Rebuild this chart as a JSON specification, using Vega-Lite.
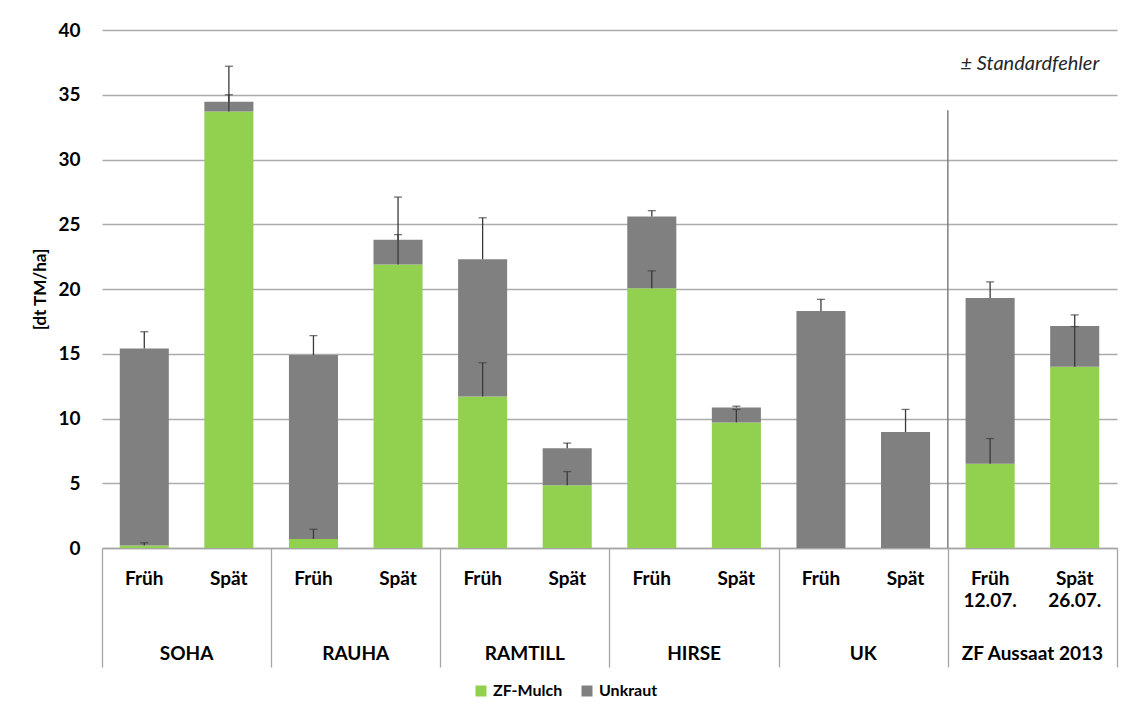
{
  "$schema": "https://vega.github.io/schema/vega-lite/v6.json",
  "width": 1015,
  "height": 518,
  "autosize": {"type": "none"},
  "padding": {"left": 102, "top": 30, "right": 9, "bottom": 163},
  "background": "white",
  "config": {"view": {"stroke": null}, "font": "Lato"},
  "datasets": {
    "bars": [
      {"cat": "SOHA|Früh", "component": "ZF-Mulch", "value": 0.2},
      {"cat": "SOHA|Früh", "component": "Unkraut", "value": 15.2},
      {"cat": "SOHA|Spät", "component": "ZF-Mulch", "value": 33.7},
      {"cat": "SOHA|Spät", "component": "Unkraut", "value": 0.75},
      {"cat": "RAUHA|Früh", "component": "ZF-Mulch", "value": 0.7},
      {"cat": "RAUHA|Früh", "component": "Unkraut", "value": 14.2},
      {"cat": "RAUHA|Spät", "component": "ZF-Mulch", "value": 21.9},
      {"cat": "RAUHA|Spät", "component": "Unkraut", "value": 1.9},
      {"cat": "RAMTILL|Früh", "component": "ZF-Mulch", "value": 11.7},
      {"cat": "RAMTILL|Früh", "component": "Unkraut", "value": 10.6},
      {"cat": "RAMTILL|Spät", "component": "ZF-Mulch", "value": 4.85},
      {"cat": "RAMTILL|Spät", "component": "Unkraut", "value": 2.85},
      {"cat": "HIRSE|Früh", "component": "ZF-Mulch", "value": 20.05},
      {"cat": "HIRSE|Früh", "component": "Unkraut", "value": 5.55},
      {"cat": "HIRSE|Spät", "component": "ZF-Mulch", "value": 9.7},
      {"cat": "HIRSE|Spät", "component": "Unkraut", "value": 1.15},
      {"cat": "UK|Früh", "component": "ZF-Mulch", "value": 0},
      {"cat": "UK|Früh", "component": "Unkraut", "value": 18.3},
      {"cat": "UK|Spät", "component": "ZF-Mulch", "value": 0},
      {"cat": "UK|Spät", "component": "Unkraut", "value": 8.95},
      {"cat": "ZF Aussaat 2013|Früh|12.07.", "component": "ZF-Mulch", "value": 6.5},
      {"cat": "ZF Aussaat 2013|Früh|12.07.", "component": "Unkraut", "value": 12.8},
      {"cat": "ZF Aussaat 2013|Spät|26.07.", "component": "ZF-Mulch", "value": 14.0},
      {"cat": "ZF Aussaat 2013|Spät|26.07.", "component": "Unkraut", "value": 3.15}
    ],
    "err": [
      {"cat": "SOHA|Früh", "series": "ZF-Mulch", "base": 0.2, "top": 0.4},
      {"cat": "SOHA|Früh", "series": "Gesamt", "base": 15.4, "top": 16.7},
      {"cat": "SOHA|Spät", "series": "ZF-Mulch", "base": 33.7, "top": 35.0},
      {"cat": "SOHA|Spät", "series": "Gesamt", "base": 34.45, "top": 37.2},
      {"cat": "RAUHA|Früh", "series": "ZF-Mulch", "base": 0.7, "top": 1.45},
      {"cat": "RAUHA|Früh", "series": "Gesamt", "base": 14.9, "top": 16.4},
      {"cat": "RAUHA|Spät", "series": "ZF-Mulch", "base": 21.9, "top": 24.2},
      {"cat": "RAUHA|Spät", "series": "Gesamt", "base": 23.8, "top": 27.1},
      {"cat": "RAMTILL|Früh", "series": "ZF-Mulch", "base": 11.7, "top": 14.3},
      {"cat": "RAMTILL|Früh", "series": "Gesamt", "base": 22.3, "top": 25.5},
      {"cat": "RAMTILL|Spät", "series": "ZF-Mulch", "base": 4.85, "top": 5.9},
      {"cat": "RAMTILL|Spät", "series": "Gesamt", "base": 7.7, "top": 8.1},
      {"cat": "HIRSE|Früh", "series": "ZF-Mulch", "base": 20.05, "top": 21.4},
      {"cat": "HIRSE|Früh", "series": "Gesamt", "base": 25.6, "top": 26.05},
      {"cat": "HIRSE|Spät", "series": "ZF-Mulch", "base": 9.7, "top": 10.7},
      {"cat": "HIRSE|Spät", "series": "Gesamt", "base": 10.85, "top": 10.95},
      {"cat": "UK|Früh", "series": "Gesamt", "base": 18.3, "top": 19.2},
      {"cat": "UK|Spät", "series": "Gesamt", "base": 8.95, "top": 10.7},
      {"cat": "ZF Aussaat 2013|Früh|12.07.", "series": "ZF-Mulch", "base": 6.5, "top": 8.45},
      {"cat": "ZF Aussaat 2013|Früh|12.07.", "series": "Gesamt", "base": 19.3, "top": 20.55},
      {"cat": "ZF Aussaat 2013|Spät|26.07.", "series": "ZF-Mulch", "base": 14.0, "top": 17.1},
      {"cat": "ZF Aussaat 2013|Spät|26.07.", "series": "Gesamt", "base": 17.15, "top": 18.0}
    ]
  },
  "layer": [
    {
      "data": {"name": "bars"},
      "mark": {"type": "bar"},
      "encoding": {
        "x": {
          "field": "cat", "type": "nominal",
          "scale": {
            "domain": ["SOHA|Früh", "SOHA|Spät", "RAUHA|Früh", "RAUHA|Spät", "RAMTILL|Früh", "RAMTILL|Spät", "HIRSE|Früh", "HIRSE|Spät", "UK|Früh", "UK|Spät", "ZF Aussaat 2013|Früh|12.07.", "ZF Aussaat 2013|Spät|26.07."],
            "paddingInner": 0.42, "paddingOuter": 0.21
          },
          "axis": {
            "orient": "bottom",
            "title": null, "domain": false, "ticks": false, "grid": false,
            "labelAngle": 0,
            "labelExpr": "slice(split(datum.value, '|'), 1)",
            "labelFont": "Lato", "labelFontWeight": "bold", "labelFontSize": 19,
            "labelColor": "#000000", "labelBaseline": "top", "labelPadding": 21,
            "labelLineHeight": 22
          }
        },
        "y": {
          "field": "value", "type": "quantitative", "stack": "zero",
          "scale": {"domain": [0, 40], "nice": false},
          "axis": {
            "title": "[dt TM/ha]", "values": [0, 5, 10, 15, 20, 25, 30, 35, 40],
            "domain": false, "ticks": false, "grid": true, "gridColor": "#ababab", "gridWidth": 1.3,
            "labelFont": "Lato", "labelFontWeight": "bold", "labelFontSize": 19, "labelColor": "#000000",
            "labelPadding": 22,
            "titleFont": "Lato", "titleFontWeight": "bold", "titleFontSize": 17, "titleColor": "#000000",
            "titlePadding": 8
          }
        },
        "color": {
          "field": "component", "type": "nominal",
          "scale": {"domain": ["ZF-Mulch", "Unkraut"], "range": ["#92D050", "#808080"]},
          "legend": {
            "title": null, "orient": "none", "legendX": 371, "legendY": 653, "direction": "horizontal",
            "symbolType": "square", "symbolSize": 121, "symbolStrokeWidth": 0,
            "labelFont": "Lato", "labelFontWeight": "bold", "labelFontSize": 16, "labelColor": "#000000",
            "columnPadding": 16, "labelOffset": 4
          }
        },
        "order": {"field": "component", "sort": "descending"}
      }
    },
    {
      "data": {"name": "err"},
      "mark": {"type": "rule", "color": "#3a3a3a", "strokeWidth": 1.3},
      "encoding": {
        "x": {
          "field": "cat", "type": "nominal",
          "axis": {
            "orient": "bottom",
            "title": null, "domain": false, "ticks": false, "grid": false,
            "labelAngle": 0,
            "labelExpr": "test(/Früh/, datum.value) ? split(datum.value, '|')[0] : ''",
            "labelOffset": 42.29,
            "labelFont": "Lato", "labelFontWeight": "bold", "labelFontSize": 19,
            "labelColor": "#000000", "labelBaseline": "top", "labelPadding": 96
          }
        },
        "y": {"field": "base", "type": "quantitative", "axis": null},
        "y2": {"field": "top"}
      }
    },
    {
      "data": {"name": "err"},
      "mark": {"type": "tick", "color": "#3a3a3a", "thickness": 1.3, "size": 8},
      "encoding": {
        "x": {
          "field": "cat", "type": "nominal",
          "axis": {
            "orient": "bottom",
            "title": null, "labels": false, "grid": false,
            "domain": true, "domainColor": "#a6a6a6", "domainWidth": 1.3,
            "ticks": true, "tickSize": 119, "tickColor": "#a6a6a6", "tickWidth": 1.3,
            "tickOffset": 42.29,
            "tickOpacity": {"condition": {"test": "test(/Spät/, datum.value)", "value": 1}, "value": 0}
          }
        },
        "y": {"field": "top", "type": "quantitative", "axis": null}
      }
    },
    {
      "data": {"values": [{}]},
      "mark": {"type": "rule", "color": "#808080", "strokeWidth": 1.5},
      "encoding": {
        "x": {
          "datum": "ZF Aussaat 2013|Früh|12.07.", "type": "nominal", "bandPosition": -0.362,
          "axis": {
            "orient": "bottom",
            "title": null, "labels": false, "grid": false, "domain": false,
            "values": ["SOHA|Früh"],
            "ticks": true, "tickSize": 119, "tickColor": "#a6a6a6", "tickWidth": 1.3,
            "tickOffset": -42.29
          }
        },
        "y": {"datum": 33.8, "type": "quantitative", "axis": null},
        "y2": {"datum": 0}
      }
    },
    {
      "data": {"values": [{}]},
      "mark": {"type": "text", "align": "right", "baseline": "middle", "font": "Lato", "fontStyle": "italic", "fontSize": 20, "color": "#262626", "text": "± Standardfehler"},
      "encoding": {
        "x": {"datum": "ZF Aussaat 2013|Spät|26.07.", "type": "nominal", "bandPosition": 1, "axis": null},
        "y": {"datum": 37.4, "type": "quantitative", "axis": null}
      }
    }
  ],
  "resolve": {"axis": {"x": "independent", "y": "independent"}}
}
